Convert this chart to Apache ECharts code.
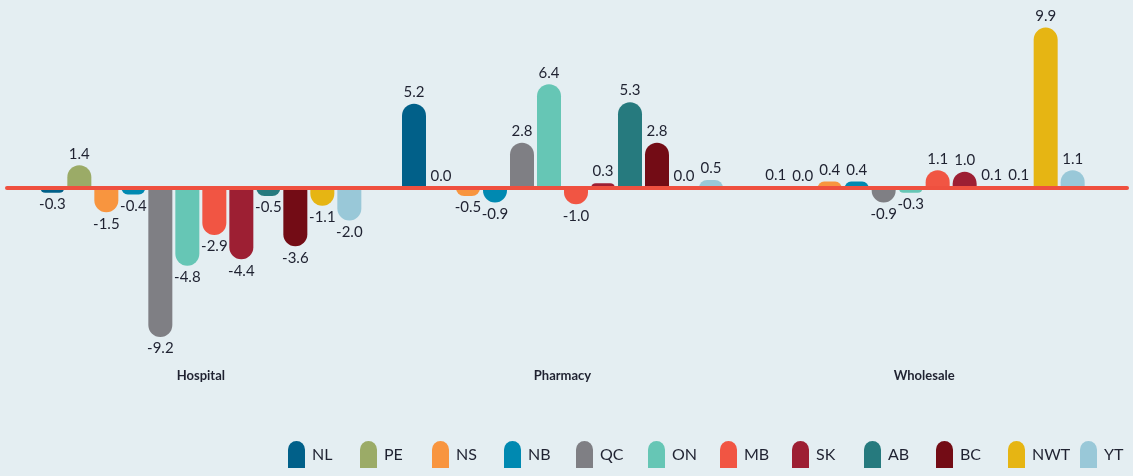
<!DOCTYPE html>
<html>
<head>
<meta charset="utf-8">
<style>
  html, body { margin: 0; padding: 0; background: #e4eef2; }
  #chart { width: 1133px; height: 476px; }
</style>
<script src="https://cdn.jsdelivr.net/npm/echarts@6/dist/echarts.min.js"></script>
</head>
<body>
<div id="chart"></div>
<script>
// categories and provinces
const categories = ['Hospital', 'Pharmacy', 'Wholesale']
const provinces = ['NL', 'PE', 'NS', 'NB', 'QC', 'ON', 'MB', 'SK', 'AB', 'BC', 'NWT', 'YT']

// values per province: [Hospital, Pharmacy, Wholesale]
const NL = [-0.3, 5.2, 0.1]
const PE = [1.4, 0.0, 0.0]
const NS = [-1.5, -0.5, 0.4]
const NB = [-0.4, -0.9, 0.4]
const QC = [-9.2, 2.8, -0.9]
const ON = [-4.8, 6.4, -0.3]
const MB = [-2.9, -1.0, 1.1]
const SK = [-4.4, 0.3, 1.0]
const AB = [-0.5, 5.3, 0.1]
const BC = [-3.6, 2.8, 0.1]
const NWT = [-1.1, 0.0, 9.9]
const YT = [-2.0, 0.5, 1.1]

const values = [NL, PE, NS, NB, QC, ON, MB, SK, AB, BC, NWT, YT]
const colors = ['#016089', '#9bab67', '#f8953f', '#0089b1', '#7f7f84', '#66c6b5',
  '#f15543', '#9d1f33', '#267a7e', '#730c15', '#e6b513', '#99c8d8']

const textColor = '#1f2231'
const fontFamily = 'Lato, "Noto Sans", sans-serif'
const legendIcon = 'path://M0,8.5A8.5,8.5,0,0,1,17,8.5L17,27L0,27Z'

let series = provinces.map((name, i) => ({
  name: name,
  type: 'bar',
  barWidth: 24,
  barGap: '12.5%',
  itemStyle: { color: colors[i] },
  data: values[i].map(v => ({
    value: v,
    itemStyle: { borderRadius: v >= 0 ? [12, 12, 0, 0] : [0, 0, 12, 12] },
    label: { position: v >= 0 ? 'top' : 'bottom' }
  })),
  label: {
    show: true,
    distance: 4,
    color: textColor,
    fontSize: 15,
    fontFamily: fontFamily,
    formatter: p => p.value.toFixed(1)
  }
}))

// zero line stretching the full width, drawn above the bars
series.push({
  type: 'bar',
  xAxisIndex: 1,
  yAxisIndex: 1,
  data: [],
  silent: true
})

// one legend per province so every entry sits on a fixed 72px step
let legends = provinces.map((name, i) => ({
  data: [name],
  left: 288 + i * 72,
  top: 441,
  padding: 0,
  itemWidth: 17,
  itemHeight: 27,
  icon: legendIcon,
  textStyle: {
    color: textColor,
    fontSize: 16,
    fontFamily: fontFamily,
    padding: [6, 0, 0, 2]
  }
}))

let option = {
  backgroundColor: '#e4eef2',
  animation: false,
  legend: legends,
  grid: [
    { left: 20, right: 28, top: 26, bottom: 126 },
    { left: 7, right: 6, top: 26, bottom: 126 }
  ],
  xAxis: [{
    type: 'category',
    data: categories,
    position: 'bottom',
    axisLine: { show: false, onZero: false },
    axisTick: { show: false },
    axisLabel: {
      margin: 19,
      color: textColor,
      fontSize: 13,
      fontWeight: 'bold',
      fontFamily: fontFamily
    }
  }, {
    type: 'category',
    gridIndex: 1,
    data: [''],
    z: 10,
    axisLine: { onZero: true, lineStyle: { color: '#ef503f', width: 4 } },
    axisTick: { show: false },
    axisLabel: { show: false }
  }],
  yAxis: [{
    type: 'value',
    min: -10,
    max: 10,
    show: false
  }, {
    type: 'value',
    gridIndex: 1,
    min: -10,
    max: 10,
    show: false
  }],
  series: series
}

let dom = echarts.init(document.getElementById('chart'))
dom.setOption(option)
</script>
</body>
</html>
